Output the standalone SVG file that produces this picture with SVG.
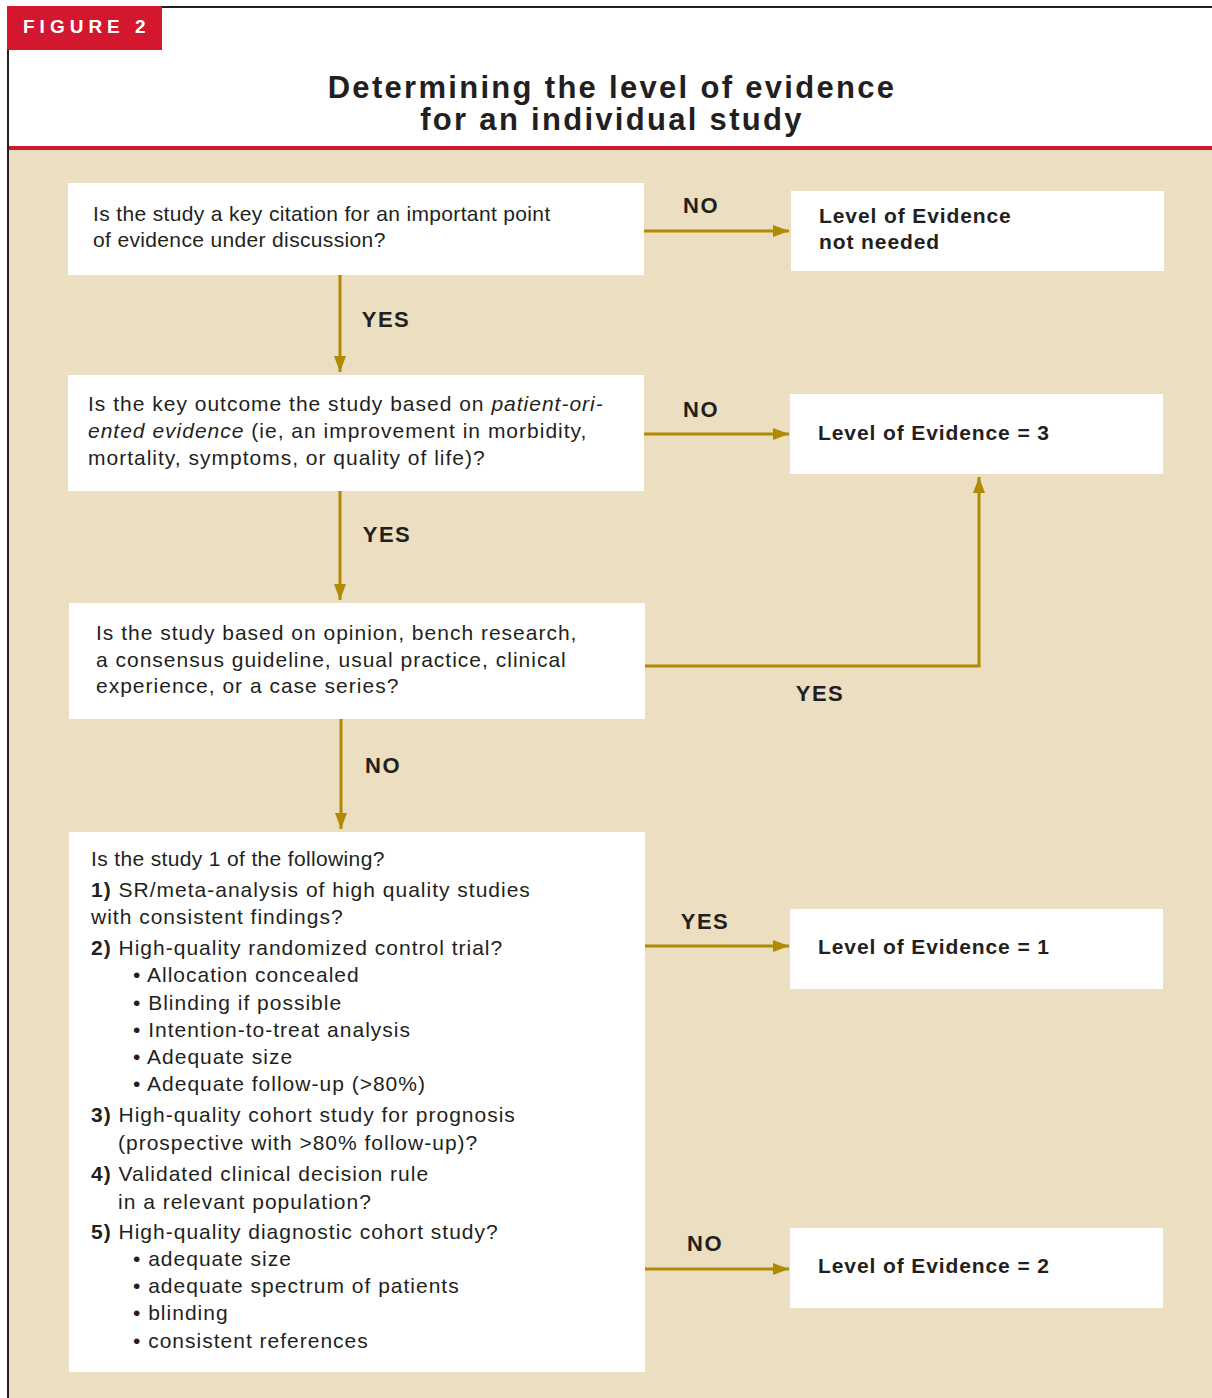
<svg xmlns="http://www.w3.org/2000/svg" width="1212" height="1398" viewBox="0 0 1212 1398">
<defs>
<style>
.t{font-family:"Liberation Sans",Arial,sans-serif;font-size:21px;fill:#231f20;letter-spacing:1px}
.t1{letter-spacing:0.35px}
.b{font-weight:bold}
.lv{font-family:"Liberation Sans",Arial,sans-serif;font-size:21px;font-weight:bold;fill:#231f20;letter-spacing:0.9px}
.lab{font-family:"Liberation Sans",Arial,sans-serif;font-size:22px;font-weight:bold;fill:#231f20;text-anchor:middle;letter-spacing:1.5px}
.ttl{font-family:"Liberation Sans",Arial,sans-serif;font-size:31px;font-weight:bold;fill:#231f20;text-anchor:middle;letter-spacing:2.3px}
.box{fill:#ffffff}
.c{stroke:#b08a00;stroke-width:3;fill:none}
</style>
<marker id="ah" markerWidth="16" markerHeight="12" refX="16" refY="6" orient="auto" markerUnits="userSpaceOnUse">
<path d="M0,0 L16,6 L0,12 Z" fill="#b08a00"/>
</marker>
</defs>
<rect x="0" y="0" width="1212" height="1398" fill="#ffffff"/>
<rect x="8" y="150" width="1204" height="1248" fill="#ebdec1"/>
<rect x="8" y="146" width="1204" height="4" fill="#d2172f"/>
<line x1="7" y1="7" x2="1212" y2="7" stroke="#231f20" stroke-width="2"/>
<line x1="8" y1="6" x2="8" y2="1398" stroke="#231f20" stroke-width="2"/>
<g id="figure-label">
<rect x="7" y="6" width="155" height="44" fill="#d2172f"/>
<text x="23" y="33" font-family="Liberation Sans,Arial,sans-serif" font-size="19" font-weight="bold" fill="#ffffff" letter-spacing="5">FIGURE 2</text>
</g>
<g id="title">
<text class="ttl" x="612" y="98">Determining the level of evidence</text>
<text class="ttl" x="612" y="130">for an individual study</text>
</g>
<g id="connectors">
<line class="c" x1="644" y1="231" x2="789" y2="231" marker-end="url(#ah)"/>
<line class="c" x1="340" y1="275" x2="340" y2="372" marker-end="url(#ah)"/>
<line class="c" x1="644" y1="434" x2="789" y2="434" marker-end="url(#ah)"/>
<line class="c" x1="340" y1="491" x2="340" y2="600" marker-end="url(#ah)"/>
<polyline class="c" points="645,666 979,666 979,477" marker-end="url(#ah)"/>
<line class="c" x1="341" y1="719" x2="341" y2="829" marker-end="url(#ah)"/>
<line class="c" x1="645" y1="946" x2="789" y2="946" marker-end="url(#ah)"/>
<line class="c" x1="645" y1="1269" x2="789" y2="1269" marker-end="url(#ah)"/>
<text class="lab" x="701" y="213">NO</text>
<text class="lab" x="386" y="327">YES</text>
<text class="lab" x="701" y="417">NO</text>
<text class="lab" x="387" y="542">YES</text>
<text class="lab" x="820" y="701">YES</text>
<text class="lab" x="383" y="773">NO</text>
<text class="lab" x="705" y="929">YES</text>
<text class="lab" x="705" y="1251">NO</text>
</g>
<g id="q1">
<rect class="box" x="68" y="183" width="576" height="92"/>
<text class="t t1" x="93" y="221">Is the study a key citation for an important point</text>
<text class="t t1" x="93" y="247">of evidence under discussion?</text>
</g>
<g id="l-none">
<rect class="box" x="791" y="191" width="373" height="80"/>
<text class="lv" x="819" y="223">Level of Evidence</text>
<text class="lv" x="819" y="249">not needed</text>
</g>
<g id="q2">
<rect class="box" x="68" y="375" width="576" height="116"/>
<text class="t" x="88" y="411">Is the key outcome the study based on <tspan font-style="italic">patient-ori-</tspan></text>
<text class="t" x="88" y="438"><tspan font-style="italic">ented evidence</tspan> (ie, an improvement in morbidity,</text>
<text class="t" x="88" y="465">mortality, symptoms, or quality of life)?</text>
</g>
<g id="l3">
<rect class="box" x="790" y="394" width="373" height="80"/>
<text class="lv" x="818" y="440">Level of Evidence = 3</text>
</g>
<g id="q3">
<rect class="box" x="69" y="603" width="576" height="116"/>
<text class="t" x="96" y="640">Is the study based on opinion, bench research,</text>
<text class="t" x="96" y="667">a consensus guideline, usual practice, clinical</text>
<text class="t" x="96" y="693">experience, or a case series?</text>
</g>
<g id="q4">
<rect class="box" x="69" y="832" width="576" height="540"/>
<text class="t t1" x="91" y="866">Is the study 1 of the following?</text>
<text class="t" x="91" y="897"><tspan class="b">1)</tspan> SR/meta-analysis of high quality studies</text>
<text class="t" x="91" y="924">with consistent findings?</text>
<text class="t" x="91" y="955"><tspan class="b">2)</tspan> High-quality randomized control trial?</text>
<text class="t" x="133" y="982">• Allocation concealed</text>
<text class="t" x="133" y="1010">• Blinding if possible</text>
<text class="t" x="133" y="1037">• Intention-to-treat analysis</text>
<text class="t" x="133" y="1064">• Adequate size</text>
<text class="t" x="133" y="1091">• Adequate follow-up (&gt;80%)</text>
<text class="t" x="91" y="1122"><tspan class="b">3)</tspan> High-quality cohort study for prognosis</text>
<text class="t" x="118" y="1150">(prospective with &gt;80% follow-up)?</text>
<text class="t" x="91" y="1181"><tspan class="b">4)</tspan> Validated clinical decision rule</text>
<text class="t" x="118" y="1209">in a relevant population?</text>
<text class="t" x="91" y="1239"><tspan class="b">5)</tspan> High-quality diagnostic cohort study?</text>
<text class="t" x="133" y="1266">• adequate size</text>
<text class="t" x="133" y="1293">• adequate spectrum of patients</text>
<text class="t" x="133" y="1320">• blinding</text>
<text class="t" x="133" y="1348">• consistent references</text>
</g>
<g id="l1">
<rect class="box" x="790" y="909" width="373" height="80"/>
<text class="lv" x="818" y="954">Level of Evidence = 1</text>
</g>
<g id="l2">
<rect class="box" x="790" y="1228" width="373" height="80"/>
<text class="lv" x="818" y="1273">Level of Evidence = 2</text>
</g>
</svg>
